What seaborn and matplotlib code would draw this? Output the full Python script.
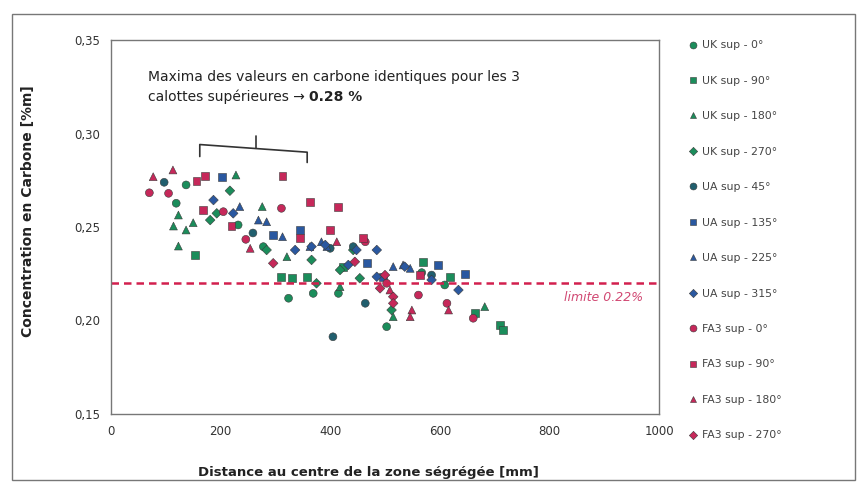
import numpy as np
import pandas as pd
import matplotlib.pyplot as plt
import seaborn as sns
from matplotlib.patches import Rectangle

# --- data: (distance [mm], carbon [%m]) per series ---
uk_0_x = [137, 119, 232, 278, 324, 369, 415, 503, 609, 567]
uk_0_y = [0.2725, 0.2627, 0.2511, 0.2395, 0.2119, 0.2145, 0.2145, 0.1967, 0.2190, 0.2256]
uk_90_x = [153, 311, 330, 357, 424, 570, 619, 664, 710, 716]
uk_90_y = [0.2350, 0.2234, 0.2226, 0.2234, 0.2288, 0.2314, 0.2234, 0.2039, 0.1976, 0.1949]
uk_180_x = [228, 123, 114, 137, 150, 123, 276, 321, 418, 515, 682]
uk_180_y = [0.2778, 0.2564, 0.2505, 0.2484, 0.2523, 0.2398, 0.2609, 0.2341, 0.2181, 0.2020, 0.2074]
uk_270_x = [217, 193, 181, 284, 366, 375, 418, 454, 442, 512]
uk_270_y = [0.2694, 0.2573, 0.2537, 0.2377, 0.2324, 0.2199, 0.2270, 0.2226, 0.2377, 0.2056]
ua_45_x = [97, 405, 464, 259, 400, 442, 585]
ua_45_y = [0.2739, 0.1913, 0.2092, 0.2468, 0.2386, 0.2395, 0.2243]
ua_135_x = [202, 345, 467, 646, 497, 296, 597]
ua_135_y = [0.2768, 0.2484, 0.2306, 0.2249, 0.2234, 0.2457, 0.2297]
ua_225_x = [235, 269, 284, 313, 363, 384, 394, 515, 533, 546]
ua_225_y = [0.2609, 0.2537, 0.2528, 0.2448, 0.2395, 0.2421, 0.2395, 0.2288, 0.2297, 0.2279]
ua_315_x = [187, 223, 336, 366, 391, 433, 448, 485, 485, 536, 634, 585]
ua_315_y = [0.2644, 0.2573, 0.2377, 0.2395, 0.2404, 0.2297, 0.2377, 0.2377, 0.2234, 0.2288, 0.2163, 0.2217]
fa3_0_x = [70, 105, 311, 246, 205, 464, 503, 561, 613, 661]
fa3_0_y = [0.2683, 0.2680, 0.2600, 0.2434, 0.2582, 0.2421, 0.2199, 0.2136, 0.2092, 0.2012]
fa3_90_x = [156, 172, 313, 168, 220, 363, 415, 400, 460, 345, 564]
fa3_90_y = [0.2748, 0.2773, 0.2773, 0.2591, 0.2505, 0.2635, 0.2609, 0.2484, 0.2440, 0.2440, 0.2243]
fa3_180_x = [77, 113, 254, 412, 509, 549, 546, 616]
fa3_180_y = [0.2769, 0.2805, 0.2386, 0.2421, 0.2163, 0.2056, 0.2020, 0.2056]
fa3_270_x = [296, 445, 500, 491, 515, 515]
fa3_270_y = [0.2306, 0.2314, 0.2243, 0.2172, 0.2127, 0.2092]

series_names = ["UK sup - 0°", "UK sup - 90°", "UK sup - 180°", "UK sup - 270°",
                "UA sup - 45°", "UA sup - 135°", "UA sup - 225°", "UA sup - 315°",
                "FA3 sup - 0°", "FA3 sup - 90°", "FA3 sup - 180°", "FA3 sup - 270°"]
series_x = [uk_0_x, uk_90_x, uk_180_x, uk_270_x, ua_45_x, ua_135_x, ua_225_x, ua_315_x,
            fa3_0_x, fa3_90_x, fa3_180_x, fa3_270_x]
series_y = [uk_0_y, uk_90_y, uk_180_y, uk_270_y, ua_45_y, ua_135_y, ua_225_y, ua_315_y,
            fa3_0_y, fa3_90_y, fa3_180_y, fa3_270_y]

limit_value = 0.22
x_ticks = [0, 200, 400, 600, 800, 1000]
y_ticks = [0.15, 0.20, 0.25, 0.30, 0.35]
y_tick_labels = ["0,15", "0,20", "0,25", "0,30", "0,35"]

green, blue, teal, red = "#1b8d5b", "#2a58a0", "#215f6e", "#c6285a"
palette = dict(zip(series_names, [green] * 4 + [teal, blue, blue, blue] + [red] * 4))
diamond = [(0, 1), (1, 0), (0, -1), (-1, 0), (0, 1)]
markers = dict(zip(series_names, ["o", "s", "^", diamond] * 3))
diamond_series = series_names[3::4]

rows = []
for name, xs, ys in zip(series_names, series_x, series_y):
    for x, y in zip(xs, ys):
        rows.append({"serie": name, "distance": x, "carbone": y})
df = pd.DataFrame(rows)

sns.set_style("white")
plt.rcParams["font.family"] = ["DejaVu Sans"]

fig = plt.figure(figsize=(8.57, 4.84), dpi=100)
ax = fig.add_axes([111 / 857, 1 - 414 / 484, 548 / 857, 374 / 484])

sns.scatterplot(data=df, x="distance", y="carbone", hue="serie", style="serie",
                hue_order=series_names, style_order=series_names,
                palette=palette, markers=markers, s=32, linewidth=0.4,
                edgecolor="#3a3a3a", ax=ax)
# diamonds a little larger so they read like the other markers
ax.collections[0].set_sizes(np.where(df["serie"].isin(diamond_series), 48, 32))

ax.axhline(limit_value, color="#d2204e", ls=(0, (3, 2)), lw=1.8, zorder=1)
ax.text(971, 0.2121, "limite 0.22%", color="#c9285a", fontsize=9,
        style="italic", ha="right", va="center", alpha=0.85)

ax.text(67, 0.330, "Maxima des valeurs en carbone identiques pour les 3",
        fontsize=10, va="center", color="#222222")
t2 = ax.text(67, 0.3195, "calottes supérieures → ", fontsize=10, va="center",
             color="#222222")
ax.annotate("0.28 %", xy=(1, 0), xycoords=t2, va="bottom", fontsize=10,
            fontweight="bold", color="#222222")

# bracket over the maxima
ax.plot([162, 162, 358, 358], [0.2877, 0.2941, 0.2900, 0.2845], color="#333333", lw=1.2)
ax.plot([265, 265], [0.2920, 0.2984], color="#333333", lw=1.2)

ax.set_xlim(0, 1000)
ax.set_ylim(0.15, 0.35)
ax.set_xticks(x_ticks)
ax.set_yticks(y_ticks)
ax.set_yticklabels(y_tick_labels)
ax.tick_params(labelsize=8.5, colors="#333333", length=3, direction="out", pad=5)
for sp in ax.spines.values():
    sp.set_color("#777777")
    sp.set_linewidth(1)

ax.set_xlabel("Distance au centre de la zone ségrégée [mm]", fontsize=9.5,
              fontweight="bold", color="#222222")
ax.set_ylabel("Concentration en Carbone [%m]", fontsize=10, fontweight="bold",
              color="#222222")
ax.xaxis.set_label_coords(0.469, -0.139)
ax.yaxis.set_label_coords(-0.139, 0.543)

sns.move_legend(ax, "upper left", bbox_to_anchor=(1.052, 0.999), frameon=False,
                title=None, fontsize=7.8, labelspacing=2.35, handletextpad=0.3,
                handlelength=1.0, borderpad=0, borderaxespad=0)
leg = ax.get_legend()
for h, txt in zip(leg.legend_handles, leg.get_texts()):
    h.set_markersize(6 if txt.get_text() in diamond_series else 5)
    txt.set_color("#444444")

fig.patches.append(Rectangle((12 / 857, 4 / 484), 843 / 857, 466 / 484,
                             transform=fig.transFigure, fill=False,
                             edgecolor="#777777", lw=1))

fig.savefig("out.png", dpi=100)
